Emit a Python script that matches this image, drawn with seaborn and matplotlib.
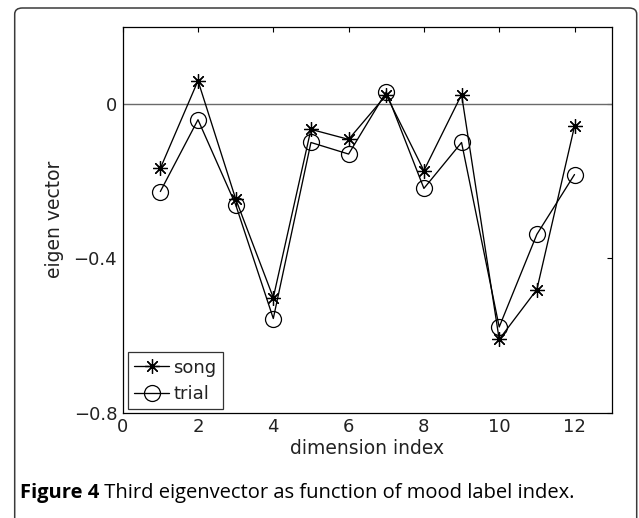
import numpy as np
import pandas as pd
import matplotlib
matplotlib.use("Agg")
import matplotlib.pyplot as plt
from matplotlib.patches import FancyBboxPatch
import seaborn as sns

# ---- data ----
dims = [1, 2, 3, 4, 5, 6, 7, 8, 9, 10, 11, 12]
song = [-0.167, 0.060, -0.246, -0.502, -0.066, -0.092, 0.023, -0.173, 0.024, -0.610, -0.481, -0.058]
trial = [-0.227, -0.041, -0.261, -0.556, -0.100, -0.130, 0.031, -0.219, -0.100, -0.578, -0.338, -0.183]
series_names = ["song", "trial"]
xticks = [0, 2, 4, 6, 8, 10, 12]
yticks = [-0.8, -0.4, 0]
ytick_labels = ["\u22120.8", "\u22120.4", "0"]
xlabel = "dimension index"
ylabel = "eigen vector"
caption_bold = "Figure 4"
caption_rest = " Third eigenvector as function of mood label index."

df = pd.DataFrame({
    "dim": dims * 2,
    "value": song + trial,
    "series": [series_names[0]] * len(dims) + [series_names[1]] * len(dims),
})

sns.set_style("white")
plt.rcParams["font.family"] = ["DejaVu Sans"]

fig = plt.figure(figsize=(6.39, 5.18), dpi=100)
ax = fig.add_axes([0.192, 0.2033, 0.958 - 0.192, 0.9485 - 0.2033])

ax.axhline(0, color="#6a6a6a", lw=1.0, zorder=1)

marker_map = {"song": (8, 2, 0), "trial": "o"}
size_map = {"song": 10.5, "trial": 11.5}
for name in series_names:
    sub = df[df["series"] == name]
    sns.lineplot(data=sub, x="dim", y="value", ax=ax, color="black",
                 marker=marker_map[name], markersize=size_map[name],
                 markeredgecolor="black", markerfacecolor="none",
                 markeredgewidth=0.9, lw=0.95, errorbar=None,
                 label=name, legend=False, zorder=3)

ax.set_xlim(0, 13)
ax.set_ylim(-0.8, 0.2)
ax.set_xticks(xticks)
ax.set_xticklabels([str(t) for t in xticks])
ax.set_yticks(yticks)
ax.set_yticklabels(ytick_labels)
ax.tick_params(direction="in", length=3.5, width=0.8, top=True, right=True,
               labeltop=False, labelright=False, labelsize=13, pad=4,
               colors="black", labelcolor="#222222")
ax.set_xlabel(xlabel, fontsize=13.5, color="#222222", labelpad=2)
ax.set_ylabel(ylabel, fontsize=13.5, color="#222222", labelpad=7)
for sp in ax.spines.values():
    sp.set_visible(True)
    sp.set_color("black")
    sp.set_linewidth(0.9)

handles = [l for l in ax.lines if l.get_label() in series_names]
leg = ax.legend(handles=handles, labels=series_names, loc="lower left",
                bbox_to_anchor=(0.011, 0.009), borderaxespad=0, fontsize=13,
                frameon=True, fancybox=False, edgecolor="black",
                handlelength=1.9, handletextpad=0.25, labelspacing=0.45,
                borderpad=0.35)
leg.get_frame().set_linewidth(0.9)
for t in leg.get_texts():
    t.set_color("#222222")

# outer rounded frame (open at the bottom)
W, H = 639.0, 518.0
frame = FancyBboxPatch((14.7 / W, -0.05), (636.7 - 14.7) / W, (1.05 - 8.0 / H),
                       boxstyle="round,pad=0,rounding_size=0.012",
                       transform=fig.transFigure, fill=False,
                       edgecolor="#3a3a3a", lw=1.1, clip_on=False)
fig.add_artist(frame)

# caption
cap_y = 1 - 498.0 / H
t1 = fig.text(20 / W, cap_y, caption_bold, fontsize=14.5, fontweight="bold",
              family=["Open Sans", "DejaVu Sans"], va="baseline", ha="left",
              color="black")
fig.canvas.draw()
bb = t1.get_window_extent(renderer=fig.canvas.get_renderer())
fig.text(bb.x1 / fig.bbox.width, cap_y, caption_rest, fontsize=14.5,
         family=["Open Sans", "DejaVu Sans"], va="baseline", ha="left",
         color="black")

fig.savefig("out.png", dpi=100)
